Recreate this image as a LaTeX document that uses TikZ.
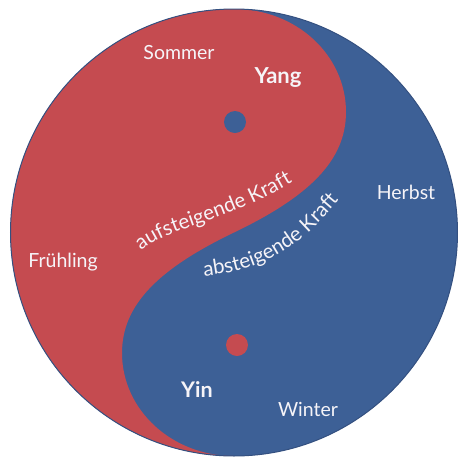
\documentclass[tikz,border=0pt]{standalone}
\usepackage{fontspec}
\setmainfont{Lato}
\usetikzlibrary{decorations.text}
\definecolor{yangred}{RGB}{197,75,80}
\definecolor{yinblue}{RGB}{61,96,150}
\definecolor{rimblue}{RGB}{52,80,128}
\definecolor{txt}{RGB}{246,244,248}
\begin{document}
\begin{tikzpicture}[x=1pt,y=-1pt,
  season/.style={text=txt, font=\fontsize{19.5}{20}\selectfont, anchor=base, inner sep=0pt},
  polar/.style={text=txt, font=\fontsize{22}{22}\selectfont\bfseries, anchor=base, inner sep=0pt},
  curvetext/.style={decorate, decoration={text along path, text align=left, text color=txt, text={#1}}}]
\useasboundingbox (0,0) rectangle (458,459);
\coordinate (C) at (234,232.5);
\fill[yinblue] (C) circle[radius=223.5pt];
\begin{scope}
\clip (C) circle[radius=223.5pt];
\fill[yangred] (234,9) .. controls (296,9) and (346,55) .. (346,112)
  .. controls (346,160) and (310,196) .. (C)
  .. controls (158,269) and (122,305) .. (122,353)
  .. controls (122,410) and (172,456) .. (234,456)
  -- (234,470) -- (-10,470) -- (-10,-10) -- (234,-10) -- cycle;
\end{scope}
\draw[rimblue, line width=1pt] (C) circle[radius=223.5pt];
\fill[yinblue] (235,122) circle[radius=11pt];
\fill[yangred] (237,345) circle[radius=11pt];
\node[season] (sommer) at (179,59) {Sommer};
\node[polar] (yang) at (278,83) {Yang};
\node[season] (herbst) at (406,199) {Herbst};
\node[season] (fruehling) at (63,267) {Frühling};
\node[polar, font=\fontsize{21.5}{22}\selectfont\bfseries] (yin) at (197,397) {Yin};
\node[season] (winter) at (308,416) {Winter};
\path[curvetext={|\fontsize{20.5}{21}\selectfont|aufsteigende Kraft}]
  (141,251) .. controls (176,222) and (234,226) .. (330,158);
\path[curvetext={|\fontsize{20.5}{21}\selectfont|absteigende Kraft}]
  (204,276) .. controls (268,270) and (312,244) .. (366,162);
\end{tikzpicture}
\end{document}
